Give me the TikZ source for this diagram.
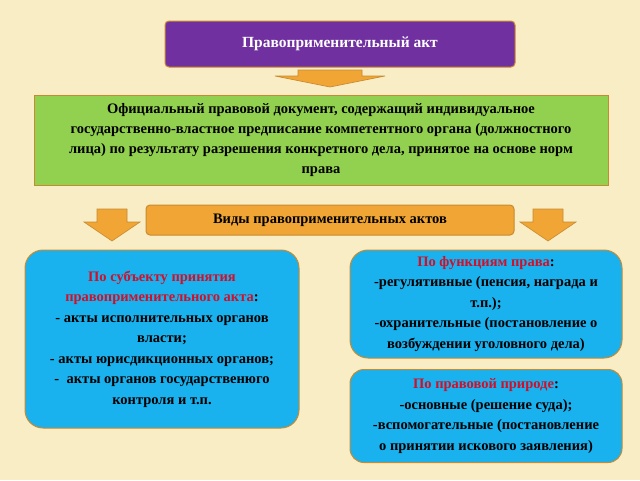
\documentclass[tikz,border=0pt]{standalone}
\usepackage{fontspec}
\setmainfont{Liberation Serif}
\definecolor{bgc}{HTML}{F8EDC4}
\definecolor{purp}{HTML}{7030A0}
\definecolor{grn}{HTML}{92D050}
\definecolor{blu}{HTML}{1AB2EE}
\definecolor{org}{HTML}{F0A535}
\definecolor{bord}{HTML}{C88A30}
\definecolor{redt}{HTML}{D0102A}
\begin{document}
\begin{tikzpicture}[x=1pt,y=-1pt,
 box/.style={draw=bord,line width=1pt,font=\bfseries,align=center,inner sep=2pt},
 blue/.style={box,fill=blu,rounded corners=18pt},
 arr/.style={fill=org,draw=bord,line width=0.6pt}]
\fill[bgc] (0,0) rectangle (640,480);
\useasboundingbox (0,0) rectangle (640,480);
\node[box,fill=purp,text=white,minimum width=350pt,minimum height=46pt,rounded corners=4pt,font=\bfseries\fontsize{15.5}{18}\selectfont] (t) at (340,44) {Правоприменительный акт};
\node[box,fill=grn,minimum width=574pt,minimum height=90pt,font=\bfseries\fontsize{14.5}{20}\selectfont] (g) at (321,140) {Официальный правовой документ, содержащий индивидуальное\\государственно-властное предписание компетентного органа (должностного\\лица) по результату разрешения конкретного дела, принятое на основе норм\\права};
\node[box,fill=org,minimum width=368pt,minimum height=30pt,rounded corners=4pt,font=\bfseries\fontsize{14.5}{16}\selectfont] (v) at (330,220) {Виды правоприменительных актов};
\node[blue,minimum height=178pt,minimum width=274pt,font=\bfseries\fontsize{14.5}{20.5}\selectfont] (l) at (162,339) {\textcolor{redt}{По субъекту принятия}\\\textcolor{redt}{правоприменительного акта}:\\- акты исполнительных органов\\власти;\\- акты юрисдикционных органов;\\- \ акты органов государственюго\\контроля и т.п.};
\node[blue,minimum height=108pt,minimum width=272pt,font=\bfseries\fontsize{14.5}{20.5}\selectfont] (r1) at (486,304) {\textcolor{redt}{По функциям права}:\\-регулятивные (пенсия, награда и\\т.п.);\\-охранительные (постановление о\\возбуждении уголовного дела)};
\node[blue,minimum height=93pt,minimum width=272pt,rounded corners=14pt,font=\bfseries\fontsize{14.5}{20.5}\selectfont] (r2) at (486,416) {\textcolor{redt}{По правовой природе}:\\-основные (решение суда);\\-вспомогательные (постановление\\о принятии искового заявления)};
\draw[arr] (298,70) -- (362,70) -- (362,76) -- (385,76) -- (330,87) -- (275,76) -- (298,76) -- cycle;
\draw[arr] (97,209) -- (127,209) -- (127,222) -- (140,222) -- (112,241) -- (84,222) -- (97,222) -- cycle;
\draw[arr] (533,209) -- (563,209) -- (563,222) -- (576,222) -- (548,241) -- (520,222) -- (533,222) -- cycle;
\end{tikzpicture}
\end{document}
